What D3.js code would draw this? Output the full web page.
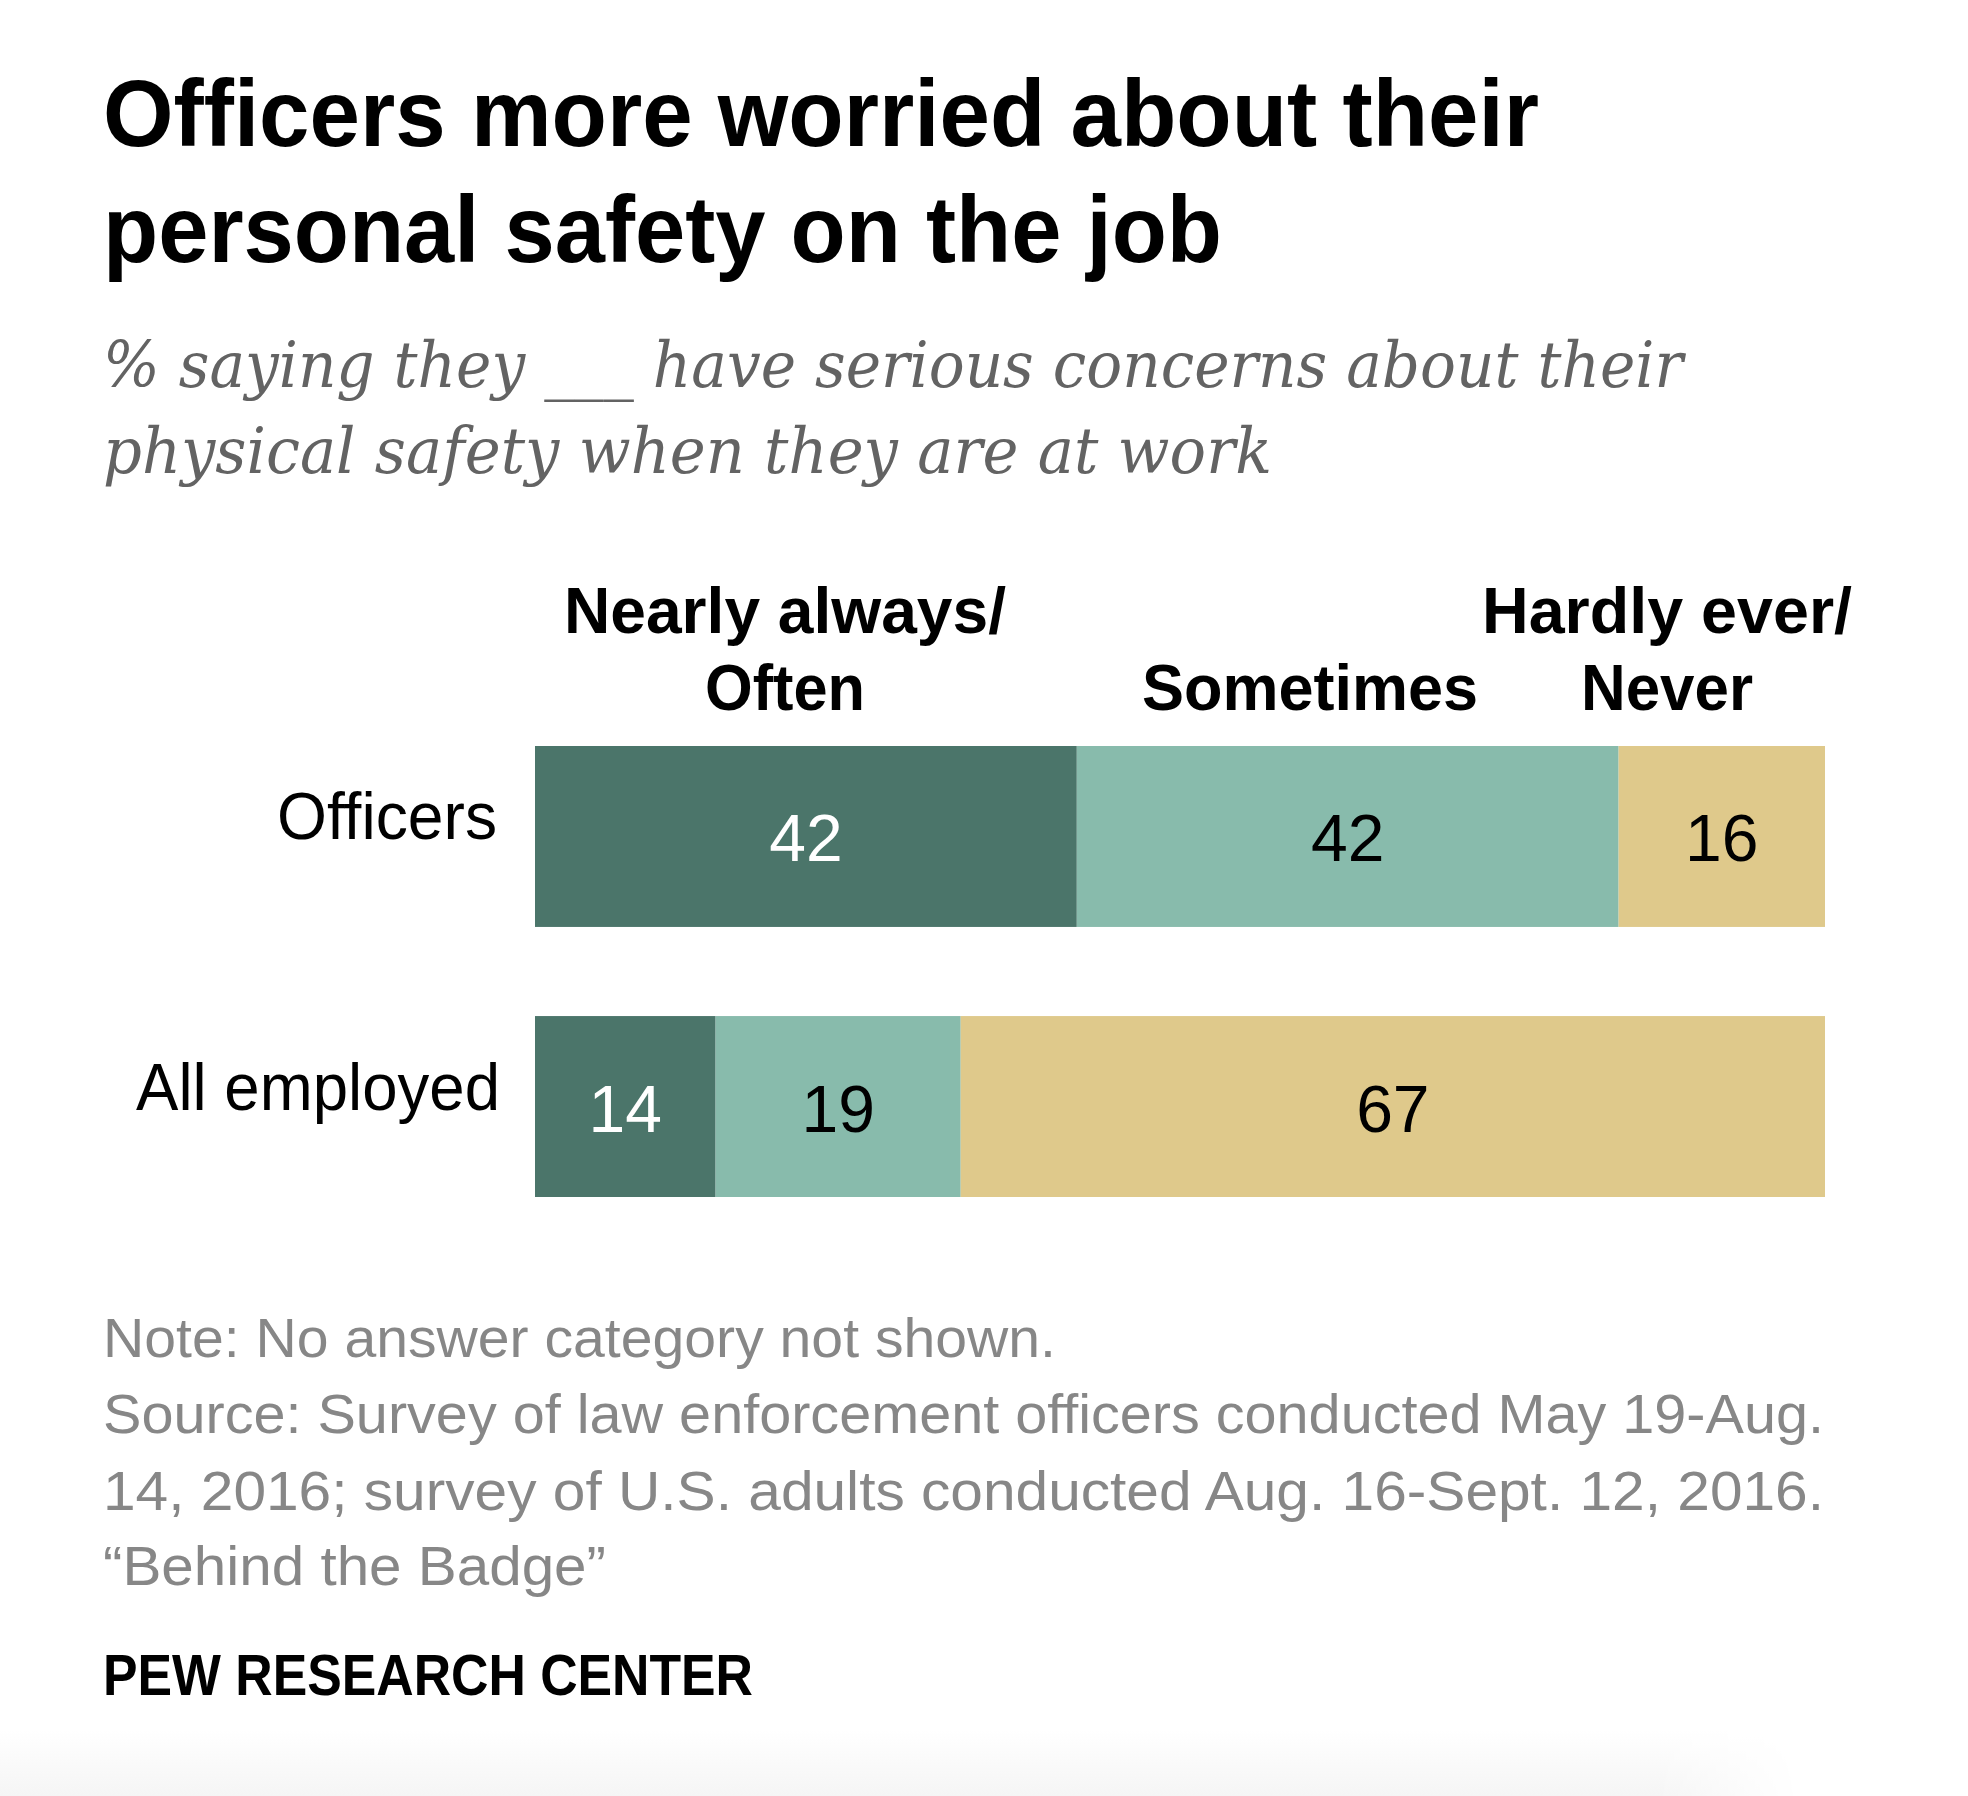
<!DOCTYPE html>
<html>
<head>
<meta charset="utf-8">
<script src="https://cdn.jsdelivr.net/npm/d3@7"></script>
<style>
  body { margin: 0; background: #fff; }
  svg { display: block; }
</style>
</head>
<body>
<div id="chart"></div>
<script>
// data
var categories = ["Officers", "All employed"];
var responses = ["nearly", "sometimes", "hardly"];
var nearlyAlways = [42, 14];
var sometimes = [42, 19];
var hardlyEver = [16, 67];

var headerLines = [
  ["Nearly always/", "Often"],
  ["Sometimes"],
  ["Hardly ever/", "Never"]
];

var titleLines = ["Officers more worried about their", "personal safety on the job"];
var subtitleLines = [
  "% saying they ___ have serious concerns about their",
  "physical safety when they are at work"
];
var noteLines = [
  "Note: No answer category not shown.",
  "Source: Survey of law enforcement officers conducted May 19-Aug.",
  "14, 2016; survey of U.S. adults conducted Aug. 16-Sept. 12, 2016.",
  "\u201cBehind the Badge\u201d"
];

var width = 1968;
var height = 1796;
var left = 103;

var svg = d3.select("#chart")
  .append("svg")
  .attr("width", width)
  .attr("height", height);

// faint shadow at the bottom edge, fading out on the right
var defs = svg.append("defs");
var grad = defs.append("linearGradient")
  .attr("id", "fade")
  .attr("x1", 0).attr("y1", 0).attr("x2", 0).attr("y2", 1);
grad.append("stop").attr("offset", "0%").attr("stop-color", "#fff");
grad.append("stop").attr("offset", "100%").attr("stop-color", "#f5f5f5");

var hgrad = defs.append("linearGradient")
  .attr("id", "hfade")
  .attr("x1", 0).attr("y1", 0).attr("x2", 1).attr("y2", 0);
hgrad.append("stop").attr("offset", "0%").attr("stop-color", "#fff");
hgrad.append("stop").attr("offset", "92%").attr("stop-color", "#fff");
hgrad.append("stop").attr("offset", "100%").attr("stop-color", "#000");
defs.append("mask")
  .attr("id", "edge")
  .append("rect")
  .attr("x", 0).attr("y", 1730)
  .attr("width", 1800).attr("height", 66)
  .attr("fill", "url(#hfade)");

svg.append("rect")
  .attr("x", 0).attr("y", 1730)
  .attr("width", 1800).attr("height", 66)
  .attr("fill", "url(#fade)")
  .attr("mask", "url(#edge)");

// squeeze a text to the width measured on the picture
function fit(sel, w) {
  sel.attr("textLength", w).attr("lengthAdjust", "spacingAndGlyphs");
}

// title
var titleWidths = [1436, 1119];
svg.selectAll("text.title")
  .data(titleLines)
  .enter()
  .append("text")
  .attr("class", "title")
  .attr("x", left)
  .attr("y", function(d, i) { return 146 + i * 116; })
  .style("font-family", "'Liberation Sans', Arial, sans-serif")
  .style("font-weight", "bold")
  .style("font-size", "95px")
  .style("fill", "#000")
  .text(function(d) { return d; })
  .each(function(d, i) { fit(d3.select(this), titleWidths[i]); });

// subtitle
var subWidths = [1580, 1169];
svg.selectAll("text.subtitle")
  .data(subtitleLines)
  .enter()
  .append("text")
  .attr("class", "subtitle")
  .attr("x", left)
  .attr("y", function(d, i) { return 387 + i * 86; })
  .style("font-family", "'DejaVu Serif', Georgia, serif")
  .style("font-style", "italic")
  .style("font-size", "63px")
  .style("fill", "#636363")
  .text(function(d) { return d; })
  .each(function(d, i) { fit(d3.select(this), subWidths[i]); });

// scales
var xScale = d3.scaleLinear()
  .domain([0, 100])
  .range([535, 1825]);

var yScale = d3.scaleBand()
  .domain(categories)
  .range([746, 1197])
  .paddingInner(0.33);

var color = d3.scaleOrdinal()
  .domain(responses)
  .range(["#4b756a", "#88bbac", "#dfc98b"]);

var textColor = d3.scaleOrdinal()
  .domain(responses)
  .range(["#fff", "#000", "#000"]);

var table = categories.map(function(c, i) {
  return { cat: c, nearly: nearlyAlways[i], sometimes: sometimes[i], hardly: hardlyEver[i] };
});

var series = d3.stack().keys(responses)(table);

// column headers
var headerX = [785, 1310, 1667];
var headerWidths = [[442, 160], [336], [370, 172]];
var headerRowY = [633, 710];
headerLines.forEach(function(lines, k) {
  var off = 2 - lines.length;
  lines.forEach(function(line, j) {
    svg.append("text")
      .attr("class", "header")
      .attr("x", headerX[k])
      .attr("y", headerRowY[j + off])
      .attr("text-anchor", "middle")
      .style("font-family", "'Liberation Sans', Arial, sans-serif")
      .style("font-weight", "bold")
      .style("font-size", "64px")
      .style("fill", "#000")
      .text(line)
      .call(fit, headerWidths[k][j]);
  });
});

// stacked bars
var groups = svg.selectAll("g.series")
  .data(series)
  .enter()
  .append("g")
  .attr("class", "series")
  .attr("fill", function(d) { return color(d.key); });

groups.selectAll("rect")
  .data(function(d) { return d; })
  .enter()
  .append("rect")
  .attr("x", function(d) { return xScale(d[0]); })
  .attr("y", function(d) { return yScale(d.data.cat); })
  .attr("width", function(d) { return xScale(d[1]) - xScale(d[0]); })
  .attr("height", yScale.bandwidth());

// value labels
groups.each(function(s) {
  d3.select(this).selectAll("text")
    .data(s)
    .enter()
    .append("text")
    .attr("x", function(d) { return (xScale(d[0]) + xScale(d[1])) / 2; })
    .attr("y", function(d) { return yScale(d.data.cat) + yScale.bandwidth() / 2 + 25; })
    .attr("text-anchor", "middle")
    .style("font-family", "'Liberation Sans', Arial, sans-serif")
    .style("font-size", "66px")
    .style("fill", textColor(s.key))
    .text(function(d) { return d[1] - d[0]; });
});

// row labels
var rowWidths = [220, 364];
svg.selectAll("text.row")
  .data(categories)
  .enter()
  .append("text")
  .attr("class", "row")
  .attr("x", function(d, i) { return i ? 500 : 497; })
  .attr("y", function(d) { return yScale(d) + yScale.bandwidth() / 2 + 3; })
  .attr("text-anchor", "end")
  .style("font-family", "'Liberation Sans', Arial, sans-serif")
  .style("font-size", "66px")
  .style("fill", "#000")
  .text(function(d) { return d; })
  .each(function(d, i) { fit(d3.select(this), rowWidths[i]); });

// notes
var noteWidths = [953, 1721, 1721, 503];
var noteY = [1357, 1433, 1510, 1585];
svg.selectAll("text.note")
  .data(noteLines)
  .enter()
  .append("text")
  .attr("class", "note")
  .attr("x", left)
  .attr("y", function(d, i) { return noteY[i]; })
  .style("font-family", "'Liberation Sans', Arial, sans-serif")
  .style("font-size", "56px")
  .style("fill", "#878787")
  .text(function(d) { return d; })
  .each(function(d, i) { fit(d3.select(this), noteWidths[i]); });

svg.append("text")
  .attr("x", left)
  .attr("y", 1695)
  .style("font-family", "'Liberation Sans', Arial, sans-serif")
  .style("font-weight", "bold")
  .style("font-size", "58px")
  .style("fill", "#000")
  .text("PEW RESEARCH CENTER")
  .call(fit, 650);
</script>
</body>
</html>
